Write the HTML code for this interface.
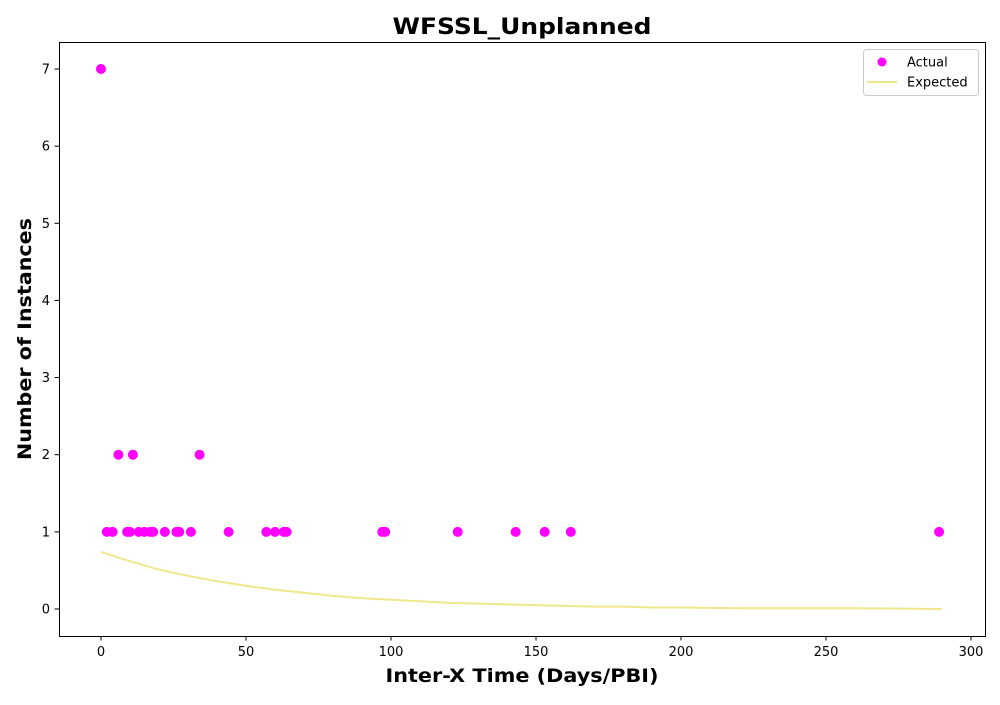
<!DOCTYPE html>
<html><head><meta charset="utf-8"><style>
body{margin:0;background:#fff;}
svg{font-family:"DejaVu Sans","Liberation Sans",sans-serif;}
</style></head><body>
<svg id="chart" width="1000" height="700" xmlns="http://www.w3.org/2000/svg">
<rect width="1000" height="700" fill="#fff"/>
<text x="522" y="34" text-anchor="middle" font-size="22" font-weight="bold" textLength="259" lengthAdjust="spacingAndGlyphs">WFSSL_Unplanned</text>
<g id="plot"></g>
<rect x="59.5" y="42.5" width="926" height="594" fill="none" stroke="#000" stroke-width="1"/>
<text x="522" y="682" text-anchor="middle" font-size="19" font-weight="bold" textLength="273" lengthAdjust="spacingAndGlyphs">Inter-X Time (Days/PBI)</text>
<text transform="translate(31,339) rotate(-90)" text-anchor="middle" font-size="19" font-weight="bold" textLength="242" lengthAdjust="spacingAndGlyphs">Number of Instances</text>
<g>
<rect x="863.5" y="49.5" width="115" height="46" rx="3" fill="#fff" stroke="#ccc"/>
<circle cx="882" cy="62" r="4.5" fill="#ff00ff"/>
<text x="907" y="66.5" font-size="13">Actual</text>
<line x1="867" y1="82" x2="897" y2="82" stroke="#f0e68c" stroke-width="2"/>
<text x="907" y="86.5" font-size="13">Expected</text>
</g>
</svg>
<script>
const actualX=[0,2,4,6,9,10,11,13,15,17,18,22,26,27,31,34,44,57,60,63,64,97,98,123,143,153,162,289];
const actualY=[7,1,1,2,1,1,2,1,1,1,1,1,1,1,1,2,1,1,1,1,1,1,1,1,1,1,1,1];
const expectedX=[0,10,20,30,40,50,60,70,80,90,100,110,120,130,140,150,160,170,180,190,200,220,240,260,290];
const expectedY=[0.74,0.62,0.51,0.43,0.36,0.30,0.25,0.21,0.17,0.14,0.12,0.10,0.08,0.07,0.06,0.05,0.04,0.03,0.03,0.02,0.02,0.01,0.01,0.01,0.0];
const xTicks=[0,50,100,150,200,250,300];
const yTicks=[0,1,2,3,4,5,6,7];
const NS="http://www.w3.org/2000/svg";
const sx=v=>101+v*2.9;
const sy=v=>609-v*77.143;
const g=document.getElementById('plot');
function mk(t,a){const e=document.createElementNS(NS,t);for(const k in a)e.setAttribute(k,a[k]);g.appendChild(e);return e;}
xTicks.forEach(t=>{
  const l=mk('line',{x1:sx(t),x2:sx(t),y1:636,y2:640.5,stroke:'#000'});
  
  
  const tx=mk('text',{x:sx(t),y:656,'text-anchor':'middle','font-size':13});
  tx.textContent=t;
  
  
});
yTicks.forEach(t=>{
  const l=mk('line',{x1:54.5,x2:59,y1:sy(t),y2:sy(t),stroke:'#000'});
  
  
  const tx=mk('text',{x:50,y:sy(t)+4.5,'text-anchor':'end','font-size':13});
  tx.textContent=t;
  
  
});
const p=mk('path',{d:expectedX.map((x,i)=>(i?'L':'M')+sx(x)+' '+sy(expectedY[i])).join(' '),fill:'none',stroke:'#f0e68c','stroke-width':2});


actualX.forEach((x,i)=>{
  const c=mk('circle',{cx:sx(x),cy:sy(actualY[i]),r:5,fill:'#ff00ff'});
  
  
});
</script>
</body></html>
